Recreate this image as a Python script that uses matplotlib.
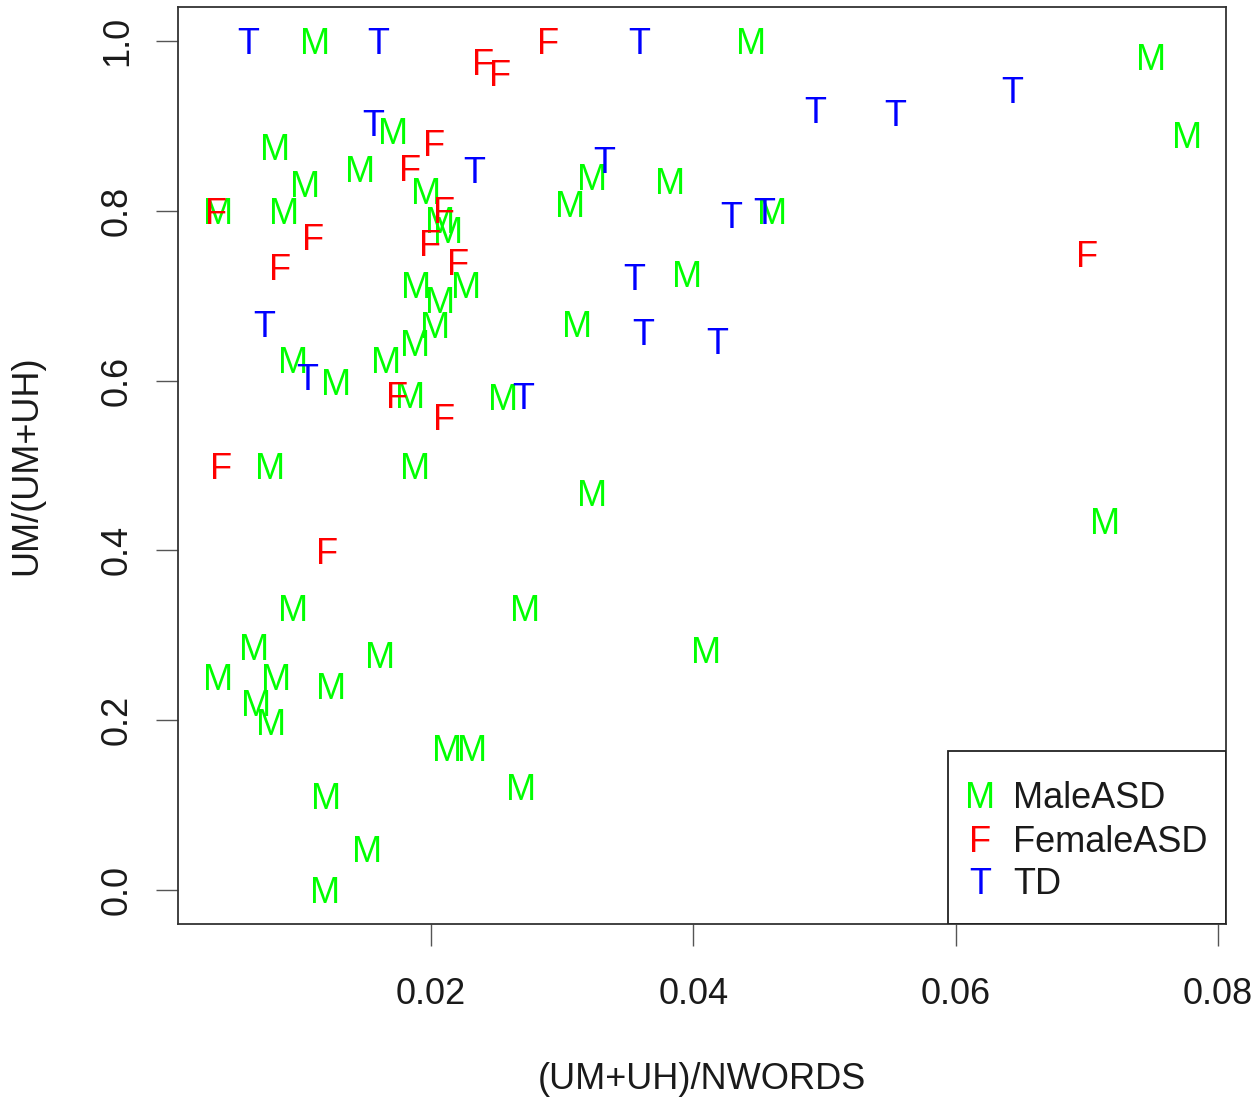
import matplotlib
matplotlib.use("Agg")
import matplotlib.pyplot as plt
from matplotlib import transforms
from matplotlib.patches import Rectangle

plt.rcParams['font.family'] = ['Liberation Sans', 'DejaVu Sans']

# ---- data ----
male_x = [0.0112, 0.0444, 0.0749, 0.0776, 0.0171, 0.0081, 0.0146, 0.0104, 0.0038, 0.0088,
          0.0196, 0.0207, 0.0213, 0.0323, 0.0306, 0.0382, 0.0460, 0.0189, 0.0207, 0.0227,
          0.0395, 0.0203, 0.0311, 0.0188, 0.0166, 0.0095, 0.0128, 0.0184, 0.0255, 0.0077,
          0.0188, 0.0323, 0.0714, 0.0095, 0.0272, 0.0065, 0.0161, 0.0410, 0.0038, 0.0082,
          0.0124, 0.0067, 0.0078, 0.0212, 0.0231, 0.0269, 0.0120, 0.0151, 0.0119]
male_y = [1.000, 1.000, 0.981, 0.890, 0.894, 0.875, 0.849, 0.832, 0.800, 0.800,
          0.824, 0.789, 0.777, 0.840, 0.808, 0.835, 0.800, 0.713, 0.695, 0.713,
          0.726, 0.666, 0.667, 0.645, 0.624, 0.624, 0.598, 0.583, 0.581, 0.500,
          0.500, 0.468, 0.435, 0.332, 0.332, 0.286, 0.277, 0.283, 0.251, 0.251,
          0.241, 0.221, 0.198, 0.167, 0.167, 0.121, 0.111, 0.049, 0.000]

female_x = [0.0240, 0.0253, 0.0289, 0.0202, 0.0184, 0.0210, 0.0199, 0.0221, 0.0036, 0.0110,
            0.0085, 0.0174, 0.0210, 0.0040, 0.0121, 0.0700]
female_y = [0.975, 0.963, 1.000, 0.880, 0.850, 0.801, 0.762, 0.740, 0.800, 0.769,
            0.734, 0.583, 0.557, 0.500, 0.399, 0.749]

td_x = [0.0061, 0.0160, 0.0359, 0.0156, 0.0233, 0.0332, 0.0493, 0.0554, 0.0643, 0.0429,
        0.0454, 0.0355, 0.0362, 0.0418, 0.0073, 0.0106, 0.0270]
td_y = [1.000, 1.000, 1.000, 0.903, 0.848, 0.860, 0.919, 0.915, 0.943, 0.795,
        0.800, 0.722, 0.657, 0.647, 0.667, 0.604, 0.582]

group_letters = ['M', 'F', 'T']
group_names = ['MaleASD', 'FemaleASD', 'TD']
group_colors = ['#00FF00', '#FF0000', '#0000FF']

x_ticks = [0.02, 0.04, 0.06, 0.08]
x_ticklabels = ['0.02', '0.04', '0.06', '0.08']
y_ticks = [0.0, 0.2, 0.4, 0.6, 0.8, 1.0]
y_ticklabels = ['0.0', '0.2', '0.4', '0.6', '0.8', '1.0']
x_label = '(UM+UH)/NWORDS'
y_label = 'UM/(UM+UH)'

# ---- figure ----
W, H = 1260, 1106
fig = plt.figure(figsize=(W / 100, H / 100), dpi=100)
ax = fig.add_axes([178 / W, 1 - 924 / H, (1226 - 178) / W, (924 - 7) / H])
ax.set_xlim(0.00072, 0.0806)
ax.set_ylim(-0.04, 1.04)

FS = 26
cap = 0.729 * FS
off = transforms.offset_copy(ax.transData, fig=fig, x=0, y=-cap / 2, units='points')

groups = [(male_x, male_y), (female_x, female_y), (td_x, td_y)]
for (gx, gy), letter, col in zip(groups, group_letters, group_colors):
    for xv, yv in zip(gx, gy):
        ax.text(xv, yv, letter, color=col, fontsize=FS, ha='center', va='baseline',
                transform=off, clip_on=False)

# box
for s in ax.spines.values():
    s.set_color('#333333')
    s.set_linewidth(1.3)

ax.set_xticks(x_ticks)
ax.set_xticklabels(x_ticklabels)
ax.set_yticks(y_ticks)
ax.set_yticklabels(y_ticklabels, rotation=90, va='center')
ax.tick_params(axis='both', length=16, width=1.0, color='#555555', labelsize=FS,
               labelcolor='#1a1a1a')
ax.tick_params(axis='x', pad=22)
ax.tick_params(axis='y', pad=15)

ax.set_xlabel(x_label, fontsize=FS, color='#1a1a1a', labelpad=36)
ax.set_ylabel(y_label, fontsize=FS, color='#1a1a1a', labelpad=40)

# legend box (R style)
lx0 = (948 - 178) / 1048
ly1 = (924 - 751) / 917
ax.add_patch(Rectangle((lx0, 0), 1 - lx0, ly1, transform=ax.transAxes, fill=False,
                       edgecolor='#222222', linewidth=1.3, zorder=5))
row_px = [795, 838, 881]
for letter, name, col, rp in zip(group_letters, group_names, group_colors, row_px):
    yy = (924 - rp) / 917
    ax.text((980 - 178) / 1048, yy, letter, color=col, fontsize=FS, ha='center',
            va='center_baseline', transform=ax.transAxes)
    ax.text((1013 - 178) / 1048, yy, name, color='#1a1a1a', fontsize=FS, ha='left',
            va='center_baseline', transform=ax.transAxes)

fig.savefig('out.png', dpi=100)
